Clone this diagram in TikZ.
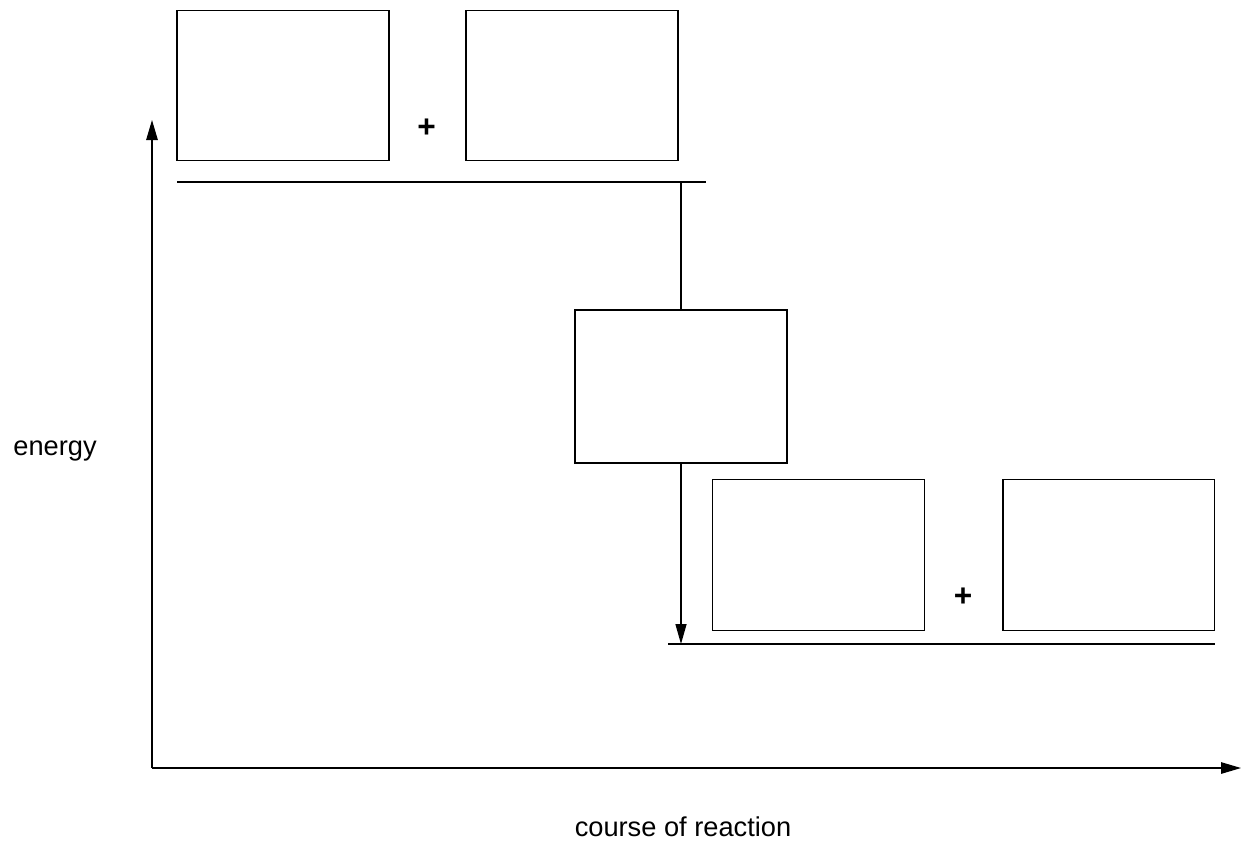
\documentclass[tikz,border=0pt]{standalone}
\usepackage{fontspec}
\setmainfont{Liberation Sans}
\usetikzlibrary{arrows.meta}

\begin{document}
\begin{tikzpicture}[x=0.02cm,y=-0.02cm,
    answerbox/.style={draw,line width=1.1pt,minimum width=4.24cm,minimum height=3cm,inner sep=0pt},
    level/.style={line width=1.1pt},
    axis/.style={line width=0.7pt,-{Triangle[length=4mm,width=2.3mm]}},
    lbl/.style={font=\fontsize{15.5}{18}\selectfont},
    plus/.style={font=\fontsize{18}{20}\selectfont\bfseries}]
        \useasboundingbox (0,0) rectangle (1243,843);
        % reactants
        \node[answerbox] (boxA) at ( 283, 85.5) {};
        \node[plus]      (plusA) at ( 426.5,128.5) {+};
        \node[answerbox] (boxB) at ( 572, 85.5) {};
        \coordinate (topL) at (177,182);
        \coordinate (topR) at (706,182);
        \draw[level] (topL) -- (topR);
        % energy change
        \node[answerbox,minimum height=3.06cm] (boxC) at ( 681,386.5) {};
        \coordinate (topC) at (681,182);
        \coordinate (botC) at (681,644);
        \draw[line width=0.8pt] (topC) -- (boxC.north);
        \draw[line width=0.8pt,-{Triangle[length=4mm,width=2.2mm]}] (boxC.south) -- (botC);
        % products
        \node[answerbox,minimum height=3.02cm] (boxD) at ( 818.5,555) {};
        \node[plus]      (plusB) at ( 963,597) {+};
        \node[answerbox,minimum height=3.02cm] (boxE) at (1108.5,555) {};
        \coordinate (botL) at (668,644);
        \coordinate (botR) at (1215,644);
        \draw[level] (botL) -- (botR);
        % axes
        \coordinate (origin) at (152,768);
        \coordinate (yend) at (152,120);
        \coordinate (xend) at (1241,768);
        \draw[axis] (origin) -- (yend);
        \draw[axis] (origin) -- (xend);
        \node[lbl] (ylabel) at ( 55,451) {energy};
        \node[lbl] (xlabel) at (683,827) {course of reaction};
      \end{tikzpicture}
\end{document}
